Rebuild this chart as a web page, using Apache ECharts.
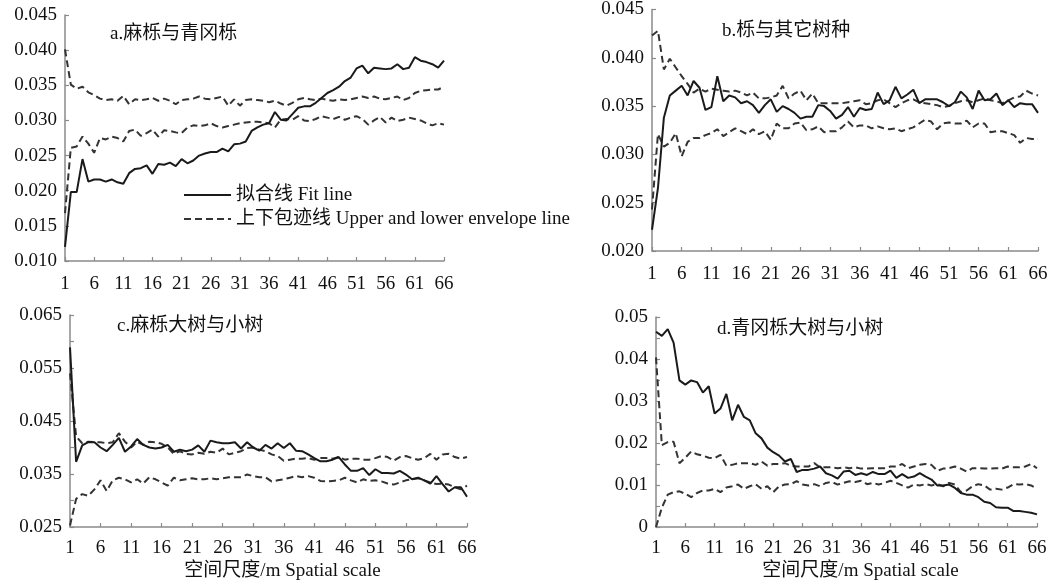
<!DOCTYPE html>
<html>
<head>
<meta charset="utf-8">
<script src="https://cdn.jsdelivr.net/npm/echarts@6/dist/echarts.min.js"></script>
<style>
html,body{margin:0;padding:0;background:#fff;}
#chart{width:1054px;height:582px;}
</style>
</head>
<body>
<div id="chart"></div>
<script>
// ---- data ----
const xCategories = [];
for (let i = 1; i <= 66; i++) xCategories.push(String(i));

const panelTitles = ['a.麻栎与青冈栎', 'b.栎与其它树种', 'c.麻栎大树与小树', 'd.青冈栎大树与小树'];
const fitName = '拟合线 Fit line';
const envName = '上下包迹线 Upper and lower envelope line';
const xAxisTitle = '空间尺度/m Spatial scale';

const aFit = [0.0120,0.0198,0.0198,0.0245,0.0213,0.0216,0.0216,0.0213,0.0216,0.0212,
  0.0210,0.0225,0.0231,0.0232,0.0236,0.0224,0.0238,0.0237,0.0240,0.0235,
  0.0245,0.0239,0.0243,0.0250,0.0253,0.0255,0.0255,0.0260,0.0256,0.0266,
  0.0267,0.0270,0.0285,0.0290,0.0294,0.0296,0.0312,0.0301,0.0300,0.0309,
  0.0318,0.0320,0.0320,0.0325,0.0332,0.0339,0.0343,0.0348,0.0356,0.0361,
  0.0374,0.0378,0.0367,0.0375,0.0374,0.0373,0.0374,0.0380,0.0373,0.0375,
  0.0390,0.0385,0.0383,0.0380,0.0375,0.0385];
const aUpper = [0.0401,0.0351,0.0345,0.0348,0.0340,0.0336,0.0331,0.0329,0.0330,0.0328,
  0.0335,0.0323,0.0330,0.0329,0.0330,0.0332,0.0328,0.0331,0.0328,0.0323,
  0.0329,0.0330,0.0331,0.0334,0.0331,0.0330,0.0332,0.0334,0.0321,0.0330,
  0.0321,0.0329,0.0330,0.0329,0.0328,0.0326,0.0328,0.0324,0.0321,0.0325,
  0.0330,0.0332,0.0330,0.0329,0.0331,0.0329,0.0328,0.0330,0.0329,0.0330,
  0.0332,0.0334,0.0332,0.0334,0.0331,0.0330,0.0332,0.0334,0.0329,0.0332,
  0.0339,0.0342,0.0343,0.0344,0.0344,0.0348];
const aLower = [0.0168,0.0261,0.0263,0.0277,0.0267,0.0254,0.0275,0.0273,0.0277,0.0275,
  0.0270,0.0285,0.0287,0.0278,0.0282,0.0287,0.0277,0.0286,0.0285,0.0283,
  0.0282,0.0290,0.0293,0.0292,0.0293,0.0296,0.0292,0.0290,0.0292,0.0294,
  0.0296,0.0297,0.0298,0.0298,0.0297,0.0296,0.0290,0.0301,0.0302,0.0301,
  0.0306,0.0300,0.0299,0.0302,0.0306,0.0304,0.0302,0.0305,0.0301,0.0304,
  0.0306,0.0302,0.0294,0.0300,0.0305,0.0297,0.0304,0.0299,0.0301,0.0304,
  0.0302,0.0300,0.0296,0.0293,0.0296,0.0294];

const bFit = [0.0222,0.0265,0.0338,0.0361,0.0366,0.0371,0.0361,0.0376,0.0369,0.0346,
  0.0349,0.0381,0.0355,0.0361,0.0359,0.0353,0.0355,0.0351,0.0343,0.0351,
  0.0357,0.0344,0.0350,0.0347,0.0343,0.0337,0.0339,0.0339,0.0351,0.0350,
  0.0345,0.0337,0.0341,0.0349,0.0339,0.0348,0.0346,0.0347,0.0364,0.0352,
  0.0356,0.0370,0.0358,0.0362,0.0367,0.0353,0.0357,0.0357,0.0357,0.0354,
  0.0350,0.0354,0.0365,0.0359,0.0347,0.0366,0.0356,0.0357,0.0363,0.0351,
  0.0356,0.0349,0.0353,0.0352,0.0352,0.0343];
const bUpper = [0.0423,0.0428,0.0388,0.0399,0.0390,0.0381,0.0373,0.0364,0.0368,0.0365,
  0.0368,0.0367,0.0366,0.0365,0.0366,0.0364,0.0361,0.0364,0.0358,0.0358,
  0.0359,0.0361,0.0371,0.0358,0.0363,0.0366,0.0356,0.0363,0.0353,0.0353,
  0.0353,0.0353,0.0353,0.0354,0.0355,0.0356,0.0352,0.0353,0.0356,0.0357,
  0.0353,0.0349,0.0353,0.0356,0.0357,0.0354,0.0353,0.0352,0.0351,0.0349,
  0.0350,0.0353,0.0355,0.0356,0.0354,0.0356,0.0358,0.0356,0.0355,0.0353,
  0.0356,0.0359,0.0360,0.0366,0.0363,0.0361];
const bLower = [0.0243,0.0321,0.0308,0.0312,0.0322,0.0298,0.0313,0.0317,0.0317,0.0320,
  0.0322,0.0326,0.0319,0.0323,0.0327,0.0324,0.0321,0.0326,0.0321,0.0324,
  0.0315,0.0332,0.0327,0.0327,0.0332,0.0333,0.0325,0.0326,0.0329,0.0323,
  0.0324,0.0324,0.0328,0.0334,0.0328,0.0330,0.0330,0.0327,0.0329,0.0327,
  0.0326,0.0327,0.0324,0.0326,0.0328,0.0332,0.0336,0.0334,0.0326,0.0332,
  0.0333,0.0332,0.0332,0.0335,0.0328,0.0332,0.0332,0.0323,0.0324,0.0324,
  0.0322,0.0320,0.0312,0.0317,0.0316,0.0316];

const cFit = [0.0589,0.0373,0.0404,0.0410,0.0410,0.0400,0.0393,0.0405,0.0418,0.0392,
  0.0402,0.0416,0.0405,0.0400,0.0398,0.0400,0.0405,0.0392,0.0396,0.0393,
  0.0396,0.0404,0.0392,0.0413,0.0410,0.0408,0.0408,0.0410,0.0398,0.0410,
  0.0400,0.0394,0.0405,0.0398,0.0408,0.0399,0.0408,0.0394,0.0393,0.0387,
  0.0380,0.0374,0.0374,0.0377,0.0382,0.0368,0.0356,0.0356,0.0361,0.0348,
  0.0359,0.0352,0.0352,0.0351,0.0356,0.0349,0.0340,0.0343,0.0338,0.0332,
  0.0346,0.0331,0.0317,0.0325,0.0325,0.0307];
const cUpper = [0.0540,0.0421,0.0408,0.0411,0.0410,0.0410,0.0408,0.0410,0.0427,0.0411,
  0.0400,0.0411,0.0405,0.0411,0.0410,0.0407,0.0400,0.0388,0.0393,0.0388,
  0.0387,0.0390,0.0388,0.0392,0.0390,0.0398,0.0387,0.0390,0.0393,0.0399,
  0.0400,0.0396,0.0393,0.0387,0.0384,0.0375,0.0377,0.0379,0.0379,0.0380,
  0.0377,0.0380,0.0380,0.0379,0.0382,0.0377,0.0379,0.0379,0.0377,0.0377,
  0.0380,0.0384,0.0382,0.0375,0.0382,0.0384,0.0380,0.0377,0.0380,0.0388,
  0.0377,0.0387,0.0388,0.0382,0.0379,0.0382];
const cLower = [0.0253,0.0303,0.0312,0.0309,0.0321,0.0338,0.0318,0.0338,0.0343,0.0340,
  0.0334,0.0340,0.0332,0.0344,0.0340,0.0334,0.0328,0.0343,0.0338,0.0340,
  0.0342,0.0340,0.0340,0.0342,0.0340,0.0342,0.0344,0.0344,0.0344,0.0349,
  0.0346,0.0344,0.0344,0.0336,0.0338,0.0340,0.0343,0.0346,0.0344,0.0346,
  0.0343,0.0337,0.0336,0.0337,0.0338,0.0343,0.0338,0.0334,0.0340,0.0337,
  0.0338,0.0336,0.0332,0.0330,0.0334,0.0338,0.0340,0.0342,0.0338,0.0334,
  0.0331,0.0332,0.0330,0.0325,0.0321,0.0328];

const dFit = [0.0465,0.0455,0.0471,0.0439,0.0349,0.0339,0.0349,0.0345,0.0320,0.0335,
  0.0270,0.0282,0.0317,0.0254,0.0291,0.0262,0.0254,0.0223,0.0211,0.0189,
  0.0178,0.0170,0.0156,0.0162,0.0131,0.0136,0.0136,0.0139,0.0144,0.0128,
  0.0123,0.0115,0.0132,0.0134,0.0124,0.0128,0.0124,0.0131,0.0126,0.0126,
  0.0134,0.0117,0.0126,0.0117,0.0120,0.0128,0.0120,0.0113,0.0099,0.0099,
  0.0101,0.0093,0.0081,0.0077,0.0077,0.0071,0.0060,0.0057,0.0047,0.0046,
  0.0046,0.0038,0.0038,0.0036,0.0034,0.0030];
const dUpper = [0.0404,0.0195,0.0202,0.0203,0.0152,0.0165,0.0180,0.0173,0.0170,0.0165,
  0.0164,0.0172,0.0146,0.0148,0.0152,0.0152,0.0152,0.0148,0.0156,0.0146,
  0.0150,0.0150,0.0152,0.0146,0.0144,0.0144,0.0144,0.0152,0.0142,0.0142,
  0.0142,0.0140,0.0142,0.0140,0.0142,0.0139,0.0139,0.0140,0.0140,0.0140,
  0.0144,0.0144,0.0150,0.0140,0.0144,0.0148,0.0150,0.0148,0.0134,0.0139,
  0.0140,0.0144,0.0139,0.0132,0.0140,0.0140,0.0139,0.0139,0.0140,0.0139,
  0.0144,0.0142,0.0142,0.0144,0.0150,0.0140];
const dLower = [0.0000,0.0046,0.0077,0.0083,0.0085,0.0079,0.0071,0.0081,0.0087,0.0087,
  0.0091,0.0083,0.0094,0.0097,0.0101,0.0091,0.0097,0.0102,0.0091,0.0097,
  0.0083,0.0097,0.0101,0.0102,0.0109,0.0101,0.0099,0.0102,0.0097,0.0105,
  0.0107,0.0101,0.0105,0.0109,0.0107,0.0110,0.0102,0.0105,0.0101,0.0105,
  0.0110,0.0105,0.0099,0.0094,0.0101,0.0099,0.0102,0.0099,0.0102,0.0097,
  0.0105,0.0101,0.0083,0.0087,0.0097,0.0102,0.0099,0.0089,0.0091,0.0089,
  0.0094,0.0102,0.0101,0.0102,0.0099,0.0091];

// ---- chart ----
const FONT = "'Liberation Serif','Times New Roman','Noto Sans CJK SC',serif";
const TXT = '#111';
const FS = 19;
const FIT_COLOR = '#1a1a1a';
const ENV_COLOR = '#333';

const fmt3 = v => v.toFixed(3);
const fmtC = v => { const n = Math.round(v * 1000); return ((n - 25) % 10 === 0) ? (n / 1000).toFixed(3) : ''; };
const fmtD = v => { const n = Math.round(v * 1000); if (n % 10 !== 0) return ''; return n === 0 ? '0' : (n / 1000).toFixed(2); };

const panels = [
  { grid: { left: 65, top: 15, width: 379, height: 246 }, min: 0.010, max: 0.045, fmt: fmt3, fit: aFit, up: aUpper, lo: aLower, title: { left: 110, top: 25 }, xName: false, xMargin: 14 },
  { grid: { left: 652, top: 6, width: 386, height: 245 }, min: 0.020, max: 0.045, fmt: fmt3, fit: bFit, up: bUpper, lo: bLower, title: { left: 722, top: 22 }, xName: false, xMargin: 14 },
  { grid: { left: 70, top: 315, width: 397, height: 215 }, min: 0.025, max: 0.065, fmt: fmtC, fit: cFit, up: cUpper, lo: cLower, title: { left: 117, top: 317 }, xName: true, xMargin: 12 },
  { grid: { left: 656, top: 317, width: 381, height: 212 }, min: 0.000, max: 0.050, fmt: fmtD, fit: dFit, up: dUpper, lo: dLower, title: { left: 717, top: 320 }, xName: true, xMargin: 12 }
];

const axisLine = { show: true, lineStyle: { color: '#8a8a8a', width: 1.5 } };
const axisTick = { show: true, inside: true, length: 4, lineStyle: { color: '#8a8a8a', width: 1.2 } };

const option = {
  animation: false,
  backgroundColor: '#fff',
  textStyle: { fontFamily: FONT, color: TXT },
  title: panels.map((p, i) => ({
    text: panelTitles[i], left: p.title.left, top: p.title.top, padding: 0,
    textStyle: { fontFamily: FONT, fontSize: FS, fontWeight: 'normal', color: TXT }
  })),
  legend: {
    data: [fitName, envName],
    orient: 'vertical',
    left: 183, top: 185, padding: 0,
    itemWidth: 47, itemHeight: 14, itemGap: 4,
    itemStyle: { opacity: 0 },
    textStyle: { fontFamily: FONT, fontSize: FS, color: TXT, lineHeight: 20 },
    selectedMode: false
  },
  grid: panels.map(p => Object.assign({ containLabel: false }, p.grid)),
  xAxis: panels.map((p, i) => ({
    type: 'category', gridIndex: i, data: xCategories, boundaryGap: false,
    axisLine: axisLine,
    axisTick: Object.assign({ interval: 4 }, axisTick),
    axisLabel: { interval: 4, fontFamily: FONT, fontSize: FS, color: TXT, margin: p.xMargin },
    splitLine: { show: false },
    name: p.xName ? xAxisTitle : '',
    nameLocation: 'middle', nameGap: 35,
    nameTextStyle: { fontFamily: FONT, fontSize: FS, color: TXT, padding: [0, 0, 0, 28] }
  })),
  yAxis: panels.map((p, i) => ({
    type: 'value', gridIndex: i, min: p.min, max: p.max, interval: 0.005,
    axisLine: axisLine,
    axisTick: axisTick,
    axisLabel: { formatter: p.fmt, fontFamily: FONT, fontSize: FS, color: TXT, margin: 8 },
    splitLine: { show: false }
  })),
  series: []
};

panels.forEach((p, i) => {
  option.series.push({
    name: fitName, type: 'line', xAxisIndex: i, yAxisIndex: i, data: p.fit,
    symbol: 'none', itemStyle: { color: FIT_COLOR },
    lineStyle: { color: FIT_COLOR, width: 2, type: 'solid' }, z: 3
  });
  option.series.push({
    name: envName, type: 'line', xAxisIndex: i, yAxisIndex: i, data: p.up,
    symbol: 'none', itemStyle: { color: ENV_COLOR },
    lineStyle: { color: ENV_COLOR, width: 2, type: [7, 4] }, z: 2
  });
  option.series.push({
    name: envName, type: 'line', xAxisIndex: i, yAxisIndex: i, data: p.lo,
    symbol: 'none', itemStyle: { color: ENV_COLOR },
    lineStyle: { color: ENV_COLOR, width: 2, type: [7, 4] }, z: 2
  });
});

const chart = echarts.init(document.getElementById('chart'), null, { renderer: 'canvas' });
chart.setOption(option);
</script>
</body>
</html>
